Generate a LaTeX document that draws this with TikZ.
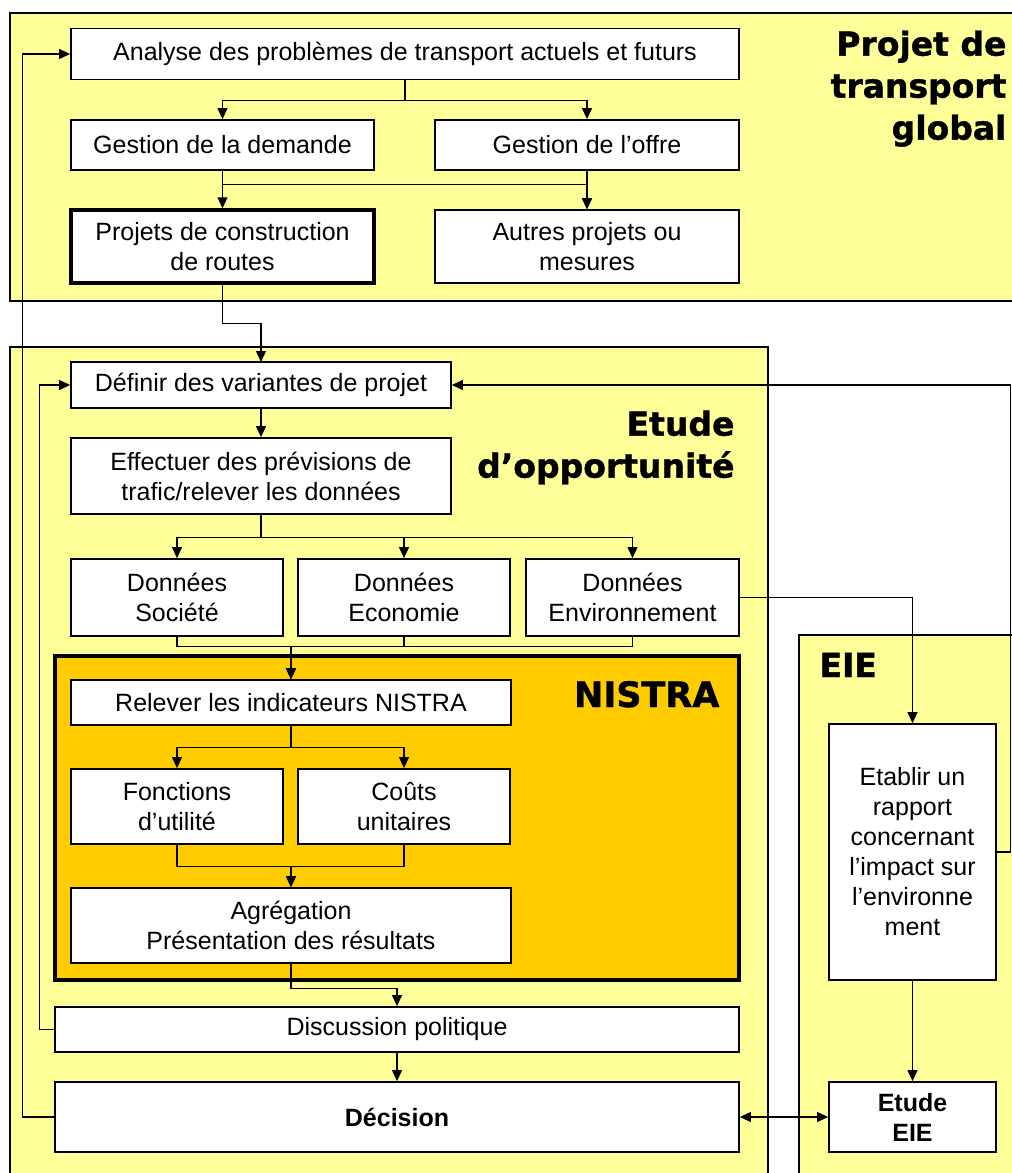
\documentclass[tikz,border=0pt]{standalone}
\usepackage{fontspec}
\setmainfont{Liberation Sans}
\newfontfamily\headfont{DejaVu Sans}[BoldFeatures={FakeBold=1.2}]
\usetikzlibrary{arrows.meta}
\definecolor{panelyellow}{HTML}{FFFF99}
\definecolor{nistraorange}{HTML}{FFCC00}

\begin{document}
\begin{tikzpicture}[x=1pt, y=-1pt, line width=1.1pt, >={Triangle[length=11pt,width=10pt]},
  box/.style={draw, fill=white, line width=1.8pt, inner sep=0pt, align=center,
    font=\fontsize{25}{30}\selectfont},
  panel/.style={draw, fill=panelyellow, line width=1.6pt},
  head/.style={inner sep=0pt, align=right, font=\headfont\bfseries\fontsize{33}{42}\selectfont}]
\useasboundingbox (0,0) rectangle (1012,1173);
\clip (0,0) rectangle (1012,1173);
% panels
\draw[panel] (10,13) rectangle (1040,301);
\draw[panel] (10,347) rectangle (768,1200);
\draw[panel] (799,635) rectangle (1040,1200);
\draw[fill=nistraorange, line width=3.5pt] (55,656) rectangle (739,980);
\node[head, anchor=north east] (T_global) at (1007,30) {Projet de\\transport\\global};
\node[head, anchor=north east] (T_etude) at (735,410) {Etude\\d’opportunité};
\node[head, anchor=base east, font=\headfont\bfseries\fontsize{35}{42}\selectfont] (T_nistra) at (720,707) {NISTRA};
\node[head, anchor=base west] (T_eie) at (819,677) {EIE};
% projet de transport global
\node[box, minimum width=668, minimum height=51] (B_analyse) at (405,54) {Analyse des problèmes de transport actuels et futurs};
\node[box, minimum width=303, minimum height=50] (B_demande) at (222.5,145) {Gestion de la demande};
\node[box, minimum width=304, minimum height=50] (B_offre) at (587,145) {Gestion de l’offre};
\node[box, line width=3.5pt, minimum width=303, minimum height=73] (B_routes) at (222.5,246.5) {Projets de construction\\de routes};
\node[box, minimum width=304, minimum height=73] (B_autres) at (587,246.5) {Autres projets ou\\mesures};
\draw[->] (B_analyse.south) -- ++(0,20) -| (B_demande.north);
\draw[->] (B_analyse.south) -- ++(0,20) -| (B_offre.north);
\draw[->] (B_demande.south) -- (B_routes.north);
\draw[->] (B_demande.south) -- ++(0,14) -| (B_autres.north);
\draw[->] (B_offre.south) -- (B_autres.north);
\draw[->] (B_routes.south) -- ++(0,39) -| (261,362);
% etude d'opportunite
\node[box, minimum width=380, minimum height=46] (B_variantes) at (261,385) {Définir des variantes de projet};
\node[box, minimum width=380, minimum height=76] (B_previsions) at (261,476) {Effectuer des prévisions de\\trafic/relever les données};
\node[box, minimum width=212, minimum height=77] (B_societe) at (177,597.5) {Données\\Société};
\node[box, minimum width=212, minimum height=77] (B_economie) at (404,597.5) {Données\\Economie};
\node[box, minimum width=213, minimum height=77] (B_environ) at (632.5,597.5) {Données\\Environnement};
\draw[->] (B_variantes.south) -- (B_previsions.north);
\draw[->] (B_previsions.south) -- ++(0,23) -| (B_societe.north);
\draw[->] (B_previsions.south) -- ++(0,23) -| (B_economie.north);
\draw[->] (B_previsions.south) -- ++(0,23) -| (B_environ.north);
% nistra
\node[box, minimum width=440, minimum height=45] (B_relever) at (291,702.5) {Relever les indicateurs NISTRA};
\node[box, minimum width=212, minimum height=75] (B_fonctions) at (177,806.5) {Fonctions\\d’utilité};
\node[box, minimum width=212, minimum height=75] (B_couts) at (404,806.5) {Coûts\\unitaires};
\node[box, minimum width=440, minimum height=75] (B_agregation) at (291,925.5) {Agrégation\\Présentation des résultats};
\draw[->] (B_societe.south) -- ++(0,10) -| (B_relever.north);
\draw[->] (B_economie.south) -- ++(0,10) -| (B_relever.north);
\draw[->] (B_environ.south) -- ++(0,10) -| (B_relever.north);
\draw[->] (B_relever.south) -- ++(0,22) -| (B_fonctions.north);
\draw[->] (B_relever.south) -- ++(0,22) -| (B_couts.north);
\draw[->] (B_fonctions.south) -- ++(0,22) -| (B_agregation.north);
\draw[->] (B_couts.south) -- ++(0,22) -| (B_agregation.north);
% discussion et decision
\node[box, minimum width=684, minimum height=45] (B_discussion) at (397,1029.5) {Discussion politique};
\node[box, minimum width=684, minimum height=70] (B_decision) at (397,1117) {\bfseries Décision};
\draw[->] (B_agregation.south) -- ++(0,25) -| (B_discussion.north);
\draw[->] (B_discussion.south) -- (B_decision.north);
\draw[->] (B_discussion.west) -- ++(-15,0) |- (B_variantes.west);
\draw[->] (B_decision.west) -- ++(-32,0) |- (B_analyse.west);
% eie
\node[box, minimum width=167, minimum height=256] (B_rapport) at (912.5,852) {Etablir un\\rapport\\concernant\\l’impact sur\\l’environne\\ment};
\node[box, minimum width=167, minimum height=70] (B_eie) at (912.5,1117) {\bfseries Etude\\\bfseries EIE};
\draw[->] (B_environ.east) -| (B_rapport.north);
\draw[->] (B_rapport.east) -- ++(14,0) |- (B_variantes.east);
\draw[->] (B_rapport.south) -- (B_eie.north);
\draw[<->] (B_decision.east) -- (B_eie.west);
\end{tikzpicture}
\end{document}
